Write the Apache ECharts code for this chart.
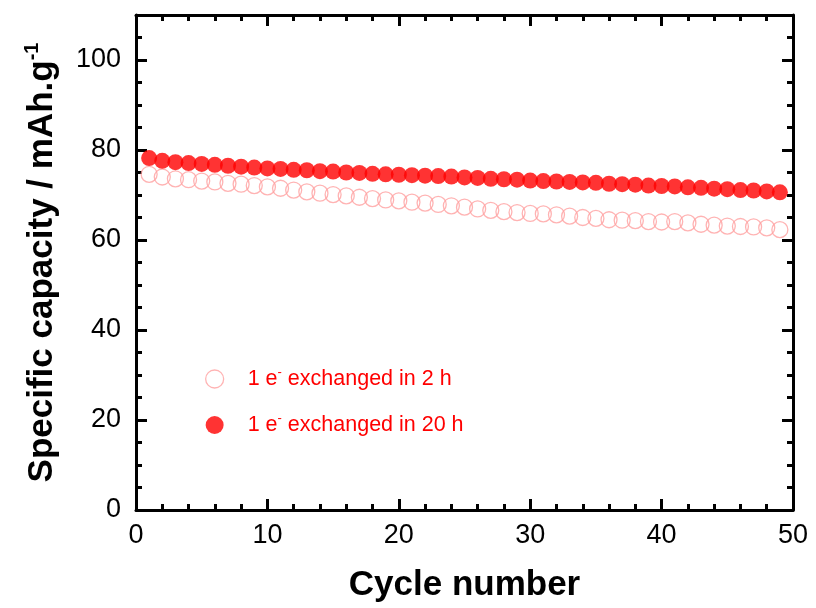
<!DOCTYPE html>
<html>
<head>
<meta charset="utf-8">
<script src="https://cdn.jsdelivr.net/npm/echarts@6/dist/echarts.min.js"></script>
<style>
  html, body { margin: 0; padding: 0; background: #fff; }
  #main { width: 816px; height: 608px; }
</style>
</head>
<body>
<div id="main"></div>
<script>
// cycle numbers
var cycles = [];
for (var c = 1; c <= 49; c++) cycles.push(c);

// 1 e- exchanged in 2 h (open circles)
var cap2h = [74.6, 74.0, 73.6, 73.4, 73.1, 72.9, 72.6, 72.4, 72.1, 71.8,
             71.5, 71.1, 70.7, 70.4, 70.1, 69.8, 69.5, 69.2, 68.9, 68.7,
             68.4, 68.2, 67.9, 67.6, 67.3, 66.9, 66.6, 66.3, 66.1, 65.9,
             65.8, 65.6, 65.3, 65.0, 64.8, 64.5, 64.4, 64.3, 64.1, 64.0,
             64.1, 63.8, 63.5, 63.3, 63.1, 63.0, 62.9, 62.7, 62.3];

// 1 e- exchanged in 20 h (filled circles)
var cap20h = [78.2, 77.6, 77.3, 77.1, 76.9, 76.7, 76.5, 76.3, 76.1, 75.9,
              75.8, 75.6, 75.5, 75.3, 75.2, 75.0, 74.9, 74.7, 74.6, 74.5,
              74.4, 74.3, 74.2, 74.1, 73.9, 73.8, 73.6, 73.5, 73.4, 73.2,
              73.1, 73.0, 72.9, 72.8, 72.7, 72.5, 72.4, 72.3, 72.1, 72.0,
              71.9, 71.7, 71.6, 71.4, 71.3, 71.1, 71.0, 70.8, 70.6];

var seriesNames = ['1 e- exchanged in 2 h', '1 e- exchanged in 20 h'];

function pairs(ys) {
    var out = [];
    for (var i = 0; i < ys.length; i++) out.push([cycles[i], ys[i]]);
    return out;
}

var font = 'Liberation Sans, Arial, sans-serif';
var lineStyle = {color: '#000', width: 3};

function xAx(pos, interval, len, main) {
    return {
        type: 'value', position: pos, min: 0, max: 50, interval: interval,
        axisLine: {show: main, onZero: false, lineStyle: lineStyle},
        axisTick: {show: true, inside: true, length: len, lineStyle: {color: '#000', width: 3}},
        axisLabel: {show: main && pos === 'bottom', fontSize: 27, color: '#000', fontFamily: font, margin: 12},
        splitLine: {show: false}
    };
}
function yAx(pos, interval, len, main) {
    return {
        type: 'value', position: pos, min: 0, max: 110, interval: interval,
        axisLine: {show: main, onZero: false, lineStyle: lineStyle},
        axisTick: {show: true, inside: true, length: len, lineStyle: {color: '#000', width: 3}},
        axisLabel: {
            show: main && pos === 'left', fontSize: 27, color: '#000', fontFamily: font, margin: 15,
            formatter: function (v) { return v > 100 ? '' : v; }
        },
        splitLine: {show: false}
    };
}

var xAxes = [xAx('bottom', 10, 11, true), xAx('bottom', 2, 6, false), xAx('top', 10, 11, true), xAx('top', 2, 6, false)];
xAxes[0].name = 'Cycle number';
xAxes[0].nameLocation = 'middle';
xAxes[0].nameGap = 58;
xAxes[0].nameTextStyle = {fontSize: 35, fontWeight: 'bold', color: '#000', fontFamily: font};

var yAxes = [yAx('left', 20, 11, true), yAx('left', 5, 6, false), yAx('right', 20, 11, true), yAx('right', 5, 6, false)];
yAxes[0].name = 'Specific capacity / mAh.g{s|-1}';
yAxes[0].nameLocation = 'middle';
yAxes[0].nameRotate = 90;
yAxes[0].nameGap = 74;
yAxes[0].nameTextStyle = {
    fontSize: 35, fontWeight: 'bold', color: '#000', fontFamily: font,
    rich: {s: {fontSize: 20, fontWeight: 'bold', color: '#000', fontFamily: font, verticalAlign: 'top', lineHeight: 40}}
};

var myChart = echarts.init(document.getElementById('main'));
var option = {
    animation: false,
    backgroundColor: '#fff',
    grid: {left: 136, right: 23, top: 15, bottom: 92},
    legend: {
        orient: 'vertical',
        left: 200, top: 361,
        itemGap: 20,
        itemWidth: 56, itemHeight: 18,
        data: [
            {name: seriesNames[0], icon: 'circle', itemStyle: {color: 'rgba(0,0,0,0)', borderColor: '#ffa0a0', borderWidth: 1.3}},
            {name: seriesNames[1], icon: 'circle', itemStyle: {color: '#ff0000', borderWidth: 0}}
        ],
        formatter: function (name) {
            return name.replace('e-', 'e{s|-}');
        },
        textStyle: {
            fontSize: 21.5, color: '#ff0000', fontFamily: font, lineHeight: 26,
            rich: {s: {fontSize: 13, color: '#ff0000', fontFamily: font, verticalAlign: 'top', lineHeight: 26}}
        }
    },
    xAxis: xAxes,
    yAxis: yAxes,
    series: [
        {
            name: seriesNames[0],
            type: 'scatter',
            symbol: 'circle',
            symbolSize: 16,
            data: pairs(cap2h),
            itemStyle: {color: 'rgba(0,0,0,0)', borderColor: '#ffa0a0', borderWidth: 1.3},
            z: 2
        },
        {
            name: seriesNames[1],
            type: 'scatter',
            symbol: 'circle',
            symbolSize: 16,
            data: pairs(cap20h),
            itemStyle: {color: '#ff0000'},
            z: 3
        }
    ]
};
myChart.setOption(option);
</script>
</body>
</html>
